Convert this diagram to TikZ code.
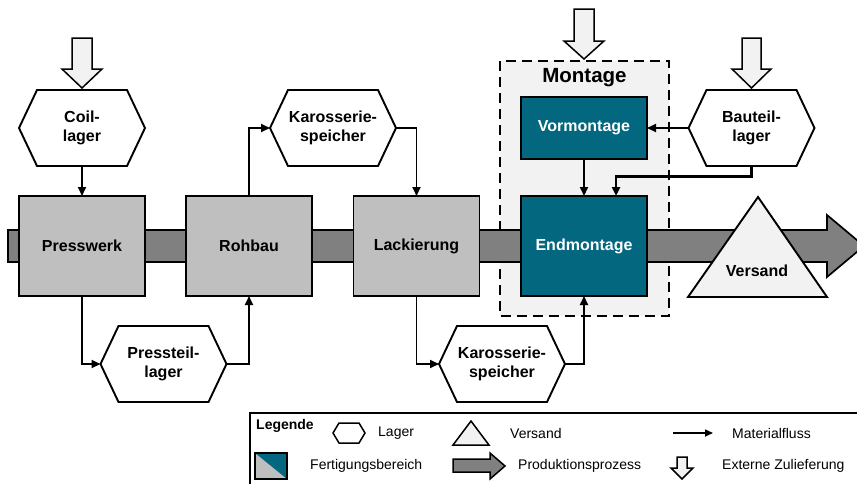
\documentclass[tikz,border=0pt]{standalone}
\usepackage{fontspec}
\setmainfont{Liberation Sans}
\usetikzlibrary{arrows.meta,backgrounds}

\definecolor{procgray}{HTML}{BFBFBF}
\definecolor{flowgray}{HTML}{808080}
\definecolor{palegray}{HTML}{F2F2F2}
\definecolor{asmteal}{HTML}{02677F}

\tikzset{
  labelfont/.style={font=\bfseries\fontsize{16}{19}\selectfont},
  procbox/.style={labelfont, draw, line width=1.9pt, fill=procgray,
    minimum width=126pt, minimum height=100pt, inner sep=0pt, outer sep=0pt},
  asmbox/.style={procbox, fill=asmteal, text=white},
  lagerbox/.style={labelfont, align=center, minimum width=126pt,
    minimum height=76pt, inner sep=0pt, outer sep=0pt},
  hexline/.style={draw, line width=1.9pt, fill=white},
  flow/.style={line width=1.9pt, -{Triangle[length=9pt,width=8pt]}},
  supply/.style={draw, line width=1.5pt, fill=palegray},
  legtext/.style={font=\fontsize{14}{16}\selectfont, anchor=west, inner sep=0pt}
}

% hexagon outline around a storage node
\newcommand\lagerhex[1]{%
  \draw[hexline] (#1.west) -- ([xshift=18pt]#1.north west) -- ([xshift=-18pt]#1.north east)
    -- (#1.east) -- ([xshift=-18pt]#1.south east) -- ([xshift=18pt]#1.south west) -- cycle;}

\begin{document}
\begin{tikzpicture}[x=1pt,y=-1pt]
\useasboundingbox (0,0) rectangle (857,483);
\clip (0,0) rectangle (857,483);

% assembly area
\draw[fill=palegray, line width=2.3pt, dash pattern=on 10pt off 6pt] (500,61) rectangle (669,316);
\node[font=\bfseries\fontsize{20.5}{24}\selectfont, inner sep=0pt] (montlbl) at (584.5,78) {Montage};

% production process band
\draw[fill=flowgray, line width=1.7pt] (8,230) -- (827,230) -- (827,215) -- (864,246)
  -- (827,277) -- (827,262) -- (8,262) -- cycle;

% production areas
\node[procbox] (press) at (82,246) {Presswerk};
\node[procbox] (rohbau) at (249,246) {Rohbau};
\node[procbox] (lack) at (416.5,246) {Lackierung};
\node[asmbox] (endm) at (584,246) {Endmontage};
\node[asmbox, minimum height=62pt] (vorm) at (584,128) {Vormontage};

% shipping
\draw[fill=palegray, line width=1.9pt, line join=miter] (758,197) -- (827,297) -- (688,297) -- cycle;
\node[labelfont, inner sep=0pt] (versand) at (757,271) {Versand};

% storages
\node[lagerbox] (coil) at (82,128) {Coil-\\lager};
\node[lagerbox] (ks1) at (333,128) {Karosserie-\\speicher};
\node[lagerbox] (pl) at (163.5,364) {Pressteil-\\lager};
\node[lagerbox] (ks2) at (502,364) {Karosserie-\\speicher};
\node[lagerbox] (bt) at (751.5,128) {Bauteil-\\lager};
\begin{scope}[on background layer]
  \lagerhex{coil}\lagerhex{ks1}\lagerhex{pl}\lagerhex{ks2}\lagerhex{bt}
\end{scope}

% external supply arrows
\draw[supply] (72,38) -- (92,38) -- (92,69) -- (102,69) -- (82,88) -- (62,69) -- (72,69) -- cycle;
\draw[supply] (574,9) -- (594,9) -- (594,41) -- (604,41) -- (584,59) -- (564,41) -- (574,41) -- cycle;
\draw[supply] (742,38) -- (761,38) -- (761,69) -- (771,69) -- (751.5,88) -- (732,69) -- (742,69) -- cycle;

% material flow
\draw[flow] (coil.south) -- (press.north);
\draw[flow] (rohbau.north) |- (ks1.west);
\draw[flow] (ks1.east) -| (lack.north);
\draw[flow] (press.south) |- (pl.west);
\draw[flow] (pl.east) -| (rohbau.south);
\draw[flow] (lack.south) |- (ks2.west);
\draw[flow] (ks2.east) -| (endm.south);
\draw[flow] (vorm.south) -- (endm.north);
\draw[flow] (bt.west) -- (vorm.east);
\coordinate (btbend) at (751.5,176.5);
\draw[flow, line width=2.6pt] (bt.south) -- (btbend) -| ([xshift=32pt]endm.north);

% legend
\draw[line width=1.6pt] (250,413) rectangle (900,520);
\node[font=\bfseries\fontsize{14}{16}\selectfont, anchor=west, inner sep=0pt] (legtitle) at (256,426) {Legende};
\draw[line width=1.5pt] (333,433) -- (339,423) -- (359,423) -- (365,433) -- (359,443) -- (339,443) -- cycle;
\node[legtext] (leglager) at (378,433) {Lager};
\draw[fill=palegray, line width=1.5pt] (471,421) -- (489,445) -- (453,445) -- cycle;
\node[legtext] (legversand) at (510,433) {Versand};
\coordinate (legflowa) at (673,433);
\coordinate (legflowb) at (713,433);
\draw[line width=1.6pt, -{Triangle[length=8pt,width=7pt]}] (legflowa) -- (legflowb);
\node[legtext] (legflow) at (732,433) {Materialfluss};
\fill[procgray] (255,453) -- (287,479) -- (255,479) -- cycle;
\fill[asmteal] (255,453) -- (287,453) -- (287,479) -- cycle;
\draw[line width=1.6pt] (255,453) rectangle (287,479);
\node[legtext] (legfert) at (310,466) {Fertigungsbereich};
\draw[fill=flowgray, line width=1.5pt] (453,459) -- (490,459) -- (490,453) -- (505,466)
  -- (490,479) -- (490,472) -- (453,472) -- cycle;
\node[legtext] (legprod) at (518,466) {Produktionsprozess};
\draw[supply] (677,457) -- (687,457) -- (687,468) -- (693,468) -- (682,479) -- (671,468) -- (677,468) -- cycle;
\node[legtext] (legsupply) at (722,466) {Externe Zulieferung};
\end{tikzpicture}
\end{document}
